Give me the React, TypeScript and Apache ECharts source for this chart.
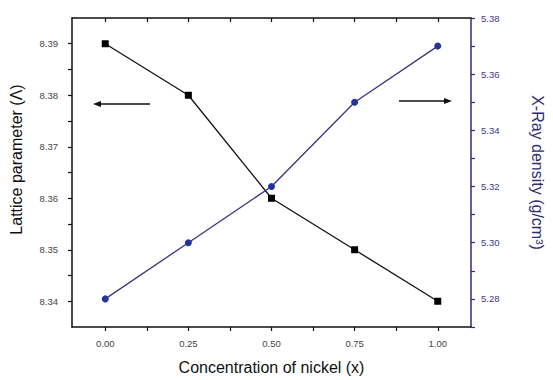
import React, { useEffect, useRef } from "react";
import * as echarts from "echarts";

const concentration = [0, 0.25, 0.5, 0.75, 1.0];
const latticeParam = [8.39, 8.38, 8.36, 8.35, 8.34];
const xrayDensity = [5.28, 5.3, 5.32, 5.35, 5.37];

const xLabels = [0, 0.25, 0.5, 0.75, 1.0];
const xTicks = [0, 0.125, 0.25, 0.375, 0.5, 0.625, 0.75, 0.875, 1.0];
const leftLabels = [8.34, 8.35, 8.36, 8.37, 8.38, 8.39];
const leftTicks = [8.34, 8.345, 8.35, 8.355, 8.36, 8.365, 8.37, 8.375, 8.38, 8.385, 8.39];
const rightLabels = [5.28, 5.3, 5.32, 5.34, 5.36, 5.38];
const rightTicks = [5.27, 5.28, 5.29, 5.3, 5.31, 5.32, 5.33, 5.34, 5.35, 5.36, 5.37, 5.38];

const NAVY = "#2f2c78";
const FONT = "Liberation Sans, Arial, sans-serif";

export default function App() {
  const ref = useRef<HTMLDivElement>(null);
  useEffect(() => {
    if (!ref.current) return;
    const chart = echarts.init(ref.current, null, { renderer: "svg" });
    const tickLabel = { fontSize: 9.5, fontFamily: FONT, color: "#444" };
    chart.setOption({
      animation: false,
      backgroundColor: "#fff",
      grid: { left: 72, top: 18, right: 77, bottom: 52 },
      xAxis: [
        {
          type: "value",
          position: "bottom",
          min: -0.1,
          max: 1.1,
          name: "Concentration of nickel (x)",
          nameLocation: "middle",
          nameGap: 32,
          nameTextStyle: { fontSize: 16, fontFamily: FONT, color: "#111" },
          axisLine: { show: true, onZero: false, lineStyle: { color: "#111", width: 1.5 } },
          axisTick: { show: true, inside: false, length: 4, customValues: xTicks, lineStyle: { color: "#111", width: 1.2 } },
          axisLabel: { ...tickLabel, margin: 11, customValues: xLabels, formatter: (v: number) => v.toFixed(2) },
          splitLine: { show: false },
        },
        {
          type: "value",
          position: "top",
          min: -0.1,
          max: 1.1,
          axisLine: { show: true, onZero: false, lineStyle: { color: "#111", width: 1.5 } },
          axisTick: { show: true, inside: true, length: 4, customValues: xTicks, lineStyle: { color: "#111", width: 1.2 } },
          axisLabel: { show: false },
          splitLine: { show: false },
        },
      ],
      yAxis: [
        {
          type: "value",
          position: "left",
          min: 8.335,
          max: 8.395,
          name: "Lattice parameter (Λ)",
          nameLocation: "middle",
          nameGap: 48,
          nameRotate: 90,
          nameTextStyle: { fontSize: 16, fontFamily: FONT, color: "#111", padding: [0, 0, 0, 26] },
          axisLine: { show: true, onZero: false, lineStyle: { color: "#111", width: 1.5 } },
          axisTick: { show: true, inside: false, length: 4, customValues: leftTicks, lineStyle: { color: "#111", width: 1.2 } },
          axisLabel: { ...tickLabel, margin: 14, customValues: leftLabels, formatter: (v: number) => v.toFixed(2) },
          splitLine: { show: false },
        },
        {
          type: "value",
          position: "right",
          min: 5.27,
          max: 5.38,
          name: "X-Ray density (g/cm³)",
          nameLocation: "middle",
          nameGap: 58,
          nameRotate: -90,
          nameTextStyle: { fontSize: 16, fontFamily: FONT, color: NAVY, padding: [0, 0, 0, 0] },
          axisLine: { show: true, onZero: false, lineStyle: { color: NAVY, width: 1.5 } },
          axisTick: { show: true, inside: false, length: 4, customValues: rightTicks, lineStyle: { color: NAVY, width: 1.2 } },
          axisLabel: { ...tickLabel, color: "#3a3a86", margin: 10, customValues: rightLabels, formatter: (v: number) => v.toFixed(2) },
          splitLine: { show: false },
        },
      ],
      series: [
        {
          type: "line",
          name: "Lattice parameter",
          xAxisIndex: 0,
          yAxisIndex: 0,
          data: concentration.map((x, i) => [x, latticeParam[i]]),
          symbol: "rect",
          symbolSize: 7,
          lineStyle: { color: "#111", width: 1.3 },
          itemStyle: { color: "#000" },
        },
        {
          type: "line",
          name: "X-Ray density",
          xAxisIndex: 0,
          yAxisIndex: 1,
          data: concentration.map((x, i) => [x, xrayDensity[i]]),
          symbol: "circle",
          symbolSize: 7,
          lineStyle: { color: "#3b3580", width: 1.3 },
          itemStyle: { color: "#23349a" },
        },
      ],
      graphic: [
        { type: "line", shape: { x1: 98, y1: 104, x2: 150, y2: 104 }, style: { stroke: "#111", lineWidth: 1.6 } },
        { type: "polygon", shape: { points: [[93, 104], [101, 101], [101, 107]] }, style: { fill: "#111" } },
        { type: "line", shape: { x1: 399, y1: 101, x2: 447, y2: 101 }, style: { stroke: "#111", lineWidth: 1.6 } },
        { type: "polygon", shape: { points: [[452, 101], [444, 98], [444, 104]] }, style: { fill: "#111" } },
      ],
    });
    return () => chart.dispose();
  }, []);
  return <div ref={ref} style={{ position: "fixed", left: 0, top: 0, width: 553, height: 380 }} />;
}
